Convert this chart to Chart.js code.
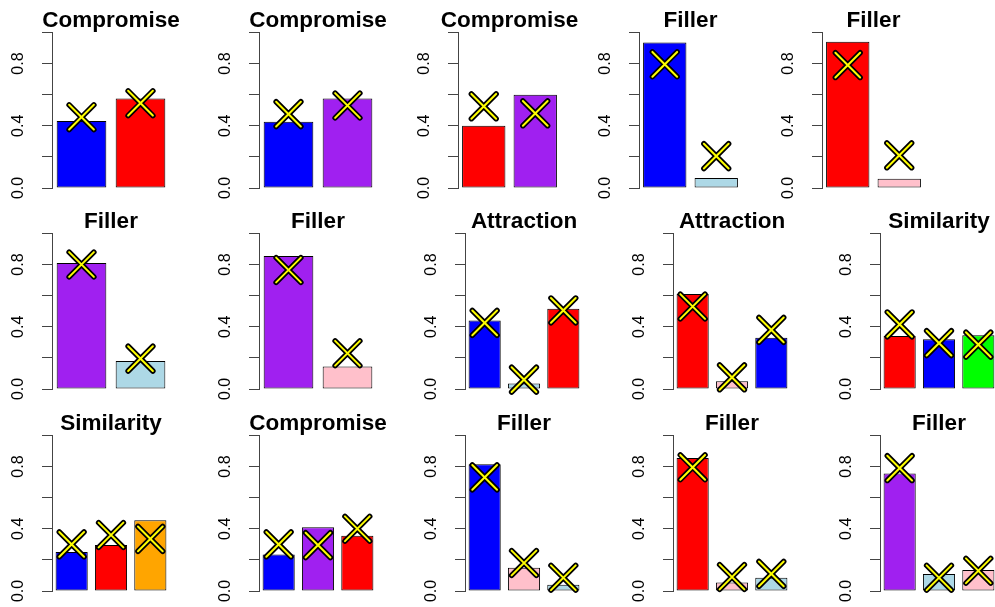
<!DOCTYPE html>
<html>
<head>
<meta charset="utf-8">
<script src="https://cdn.jsdelivr.net/npm/chart.js@4.4.1/dist/chart.umd.min.js"></script>
<style>
  html, body { margin: 0; padding: 0; background: #fff; }
  #wrap { position: relative; width: 995px; height: 607px; overflow: hidden; }
  #wrap canvas { position: absolute; }
</style>
</head>
<body>
<div id="wrap"></div>
<script>
// Panel data, row by row (3 rows x 5 panels)
const panelTitles = [
  "Compromise", "Compromise", "Compromise", "Filler", "Filler",
  "Filler", "Filler", "Attraction", "Attraction", "Similarity",
  "Similarity", "Compromise", "Filler", "Filler", "Filler",
];

const panelColors = [
  ["blue", "red"], ["blue", "purple"], ["red", "purple"], ["blue", "lightblue"], ["red", "pink"],
  ["purple", "lightblue"], ["purple", "pink"], ["blue", "lightblue", "red"], ["red", "pink", "blue"], ["red", "blue", "green"],
  ["blue", "red", "orange"], ["blue", "purple", "red"], ["blue", "pink", "lightblue"], ["red", "pink", "lightblue"], ["purple", "lightblue", "pink"],
];

const barValues = [
  [0.43, 0.575], [0.425, 0.575], [0.40, 0.60], [0.935, 0.065], [0.94, 0.06],
  [0.81, 0.18], [0.855, 0.145], [0.44, 0.035, 0.515], [0.61, 0.05, 0.33], [0.34, 0.32, 0.345],
  [0.25, 0.295, 0.455], [0.235, 0.41, 0.355], [0.815, 0.15, 0.04], [0.855, 0.055, 0.085], [0.755, 0.11, 0.135],
];

const markValues = [
  [0.455, 0.545], [0.475, 0.53], [0.525, 0.48], [0.795, 0.205], [0.79, 0.21],
  [0.80, 0.195], [0.765, 0.23], [0.425, 0.06, 0.505], [0.53, 0.075, 0.38], [0.415, 0.295, 0.285],
  [0.30, 0.36, 0.335], [0.30, 0.295, 0.40], [0.73, 0.18, 0.085], [0.795, 0.09, 0.11], [0.79, 0.085, 0.13],
];

const yTickLabels = ["0.0", "", "0.4", "", "0.8", ""];

// R colour names
const COLORS = {
  blue: "#0000ff",
  red: "#ff0000",
  purple: "#a020f0",
  lightblue: "#add8e6",
  pink: "#ffc0cb",
  green: "#00ff00",
  orange: "#ffa500",
};

const FONT = '"Liberation Sans", Arial, Helvetica, sans-serif';

// plot region geometry (px)
const rowTops = [32, 233, 435];
const plotHeight = 156;
const colLefts = [
  [52, 259, 458, 639, 822],
  [52, 259, 465, 673, 880],
  [52, 259, 465, 673, 880],
];
const plotWidths = [
  [118, 118, 103, 103, 103],
  [118, 118, 118, 118, 118],
  [118, 118, 118, 118, 118],
];
const SIDE = 48;

const roundCaps = {
  id: "roundCaps",
  beforeDatasetsDraw(chart) {
    chart.ctx.lineCap = "round";
  },
};

function markDataset(data, color, width, order) {
  return {
    type: "line",
    data,
    showLine: false,
    pointStyle: "crossRot",
    pointRadius: 17.5,
    pointBorderColor: color,
    pointBorderWidth: width,
    order,
    clip: false,
  };
}

function panelConfig(i) {
  const n = barValues[i].length;
  return {
    type: "bar",
    data: {
      labels: barValues[i].map((_, k) => String(k + 1)),
      datasets: [
        markDataset(markValues[i], "#ffff00", 2, 1),
        markDataset(markValues[i], "#000000", 5.5, 2),
        {
          data: barValues[i],
          backgroundColor: panelColors[i].map((c) => COLORS[c]),
          borderColor: "#000",
          borderWidth: 1,
          borderSkipped: false,
          barPercentage: 1,
          // R barplot: width 1, space 0.2, 4% axis extension
          categoryPercentage: n / ((1.2 * n - 0.2) * 1.08),
          order: 3,
        },
      ],
    },
    options: {
      responsive: false,
      maintainAspectRatio: false,
      devicePixelRatio: 1,
      animation: false,
      events: [],
      layout: { padding: { left: 0, right: 0, top: 0, bottom: 16 } },
      plugins: {
        legend: { display: false },
        tooltip: { enabled: false },
        title: {
          display: true,
          text: panelTitles[i],
          color: "#000",
          font: { family: FONT, size: 22.5, weight: "bold", lineHeight: 1.04 },
          padding: { top: 4, bottom: 0 },
        },
      },
      scales: {
        x: { display: false },
        y: {
          min: 0,
          max: 1,
          afterFit: (s) => {
            s.width = SIDE;
          },
          ticks: {
            stepSize: 0.2,
            minRotation: 90,
            maxRotation: 90,
            crossAlign: "center",
            padding: 12,
            color: "#000",
            font: { family: FONT, size: 16 },
            callback: (v, k) => yTickLabels[k],
          },
          grid: { drawOnChartArea: false, tickLength: 10, color: "#444", lineWidth: 1 },
          border: { display: true, color: "#444", width: 1 },
        },
        // empty spacer on the right so the title is centred over the plot
        yPad: {
          type: "linear",
          position: "right",
          afterFit: (s) => {
            s.width = SIDE;
          },
          ticks: { display: false },
          grid: { display: false },
          border: { display: false },
        },
      },
    },
    plugins: [roundCaps],
  };
}

const wrap = document.getElementById("wrap");
panelTitles.forEach((_, i) => {
  const row = Math.floor(i / 5);
  const col = i % 5;
  const canvas = document.createElement("canvas");
  const cw = plotWidths[row][col] + SIDE * 2;
  let ch = plotHeight + 70;
  const sizeCanvas = () => {
    canvas.width = cw;
    canvas.height = ch;
    canvas.style.width = cw + "px";
    canvas.style.height = ch + "px";
  };
  sizeCanvas();
  wrap.appendChild(canvas);
  let chart = new Chart(canvas, panelConfig(i));
  let a = chart.chartArea;
  const dh = Math.round(plotHeight - (a.bottom - a.top));
  if (dh !== 0) {
    chart.destroy();
    ch += dh;
    sizeCanvas();
    chart = new Chart(canvas, panelConfig(i));
    a = chart.chartArea;
  }
  canvas.style.left = Math.round(colLefts[row][col] - a.left) + "px";
  canvas.style.top = Math.round(rowTops[row] - a.top) + "px";
});
</script>
</body>
</html>
